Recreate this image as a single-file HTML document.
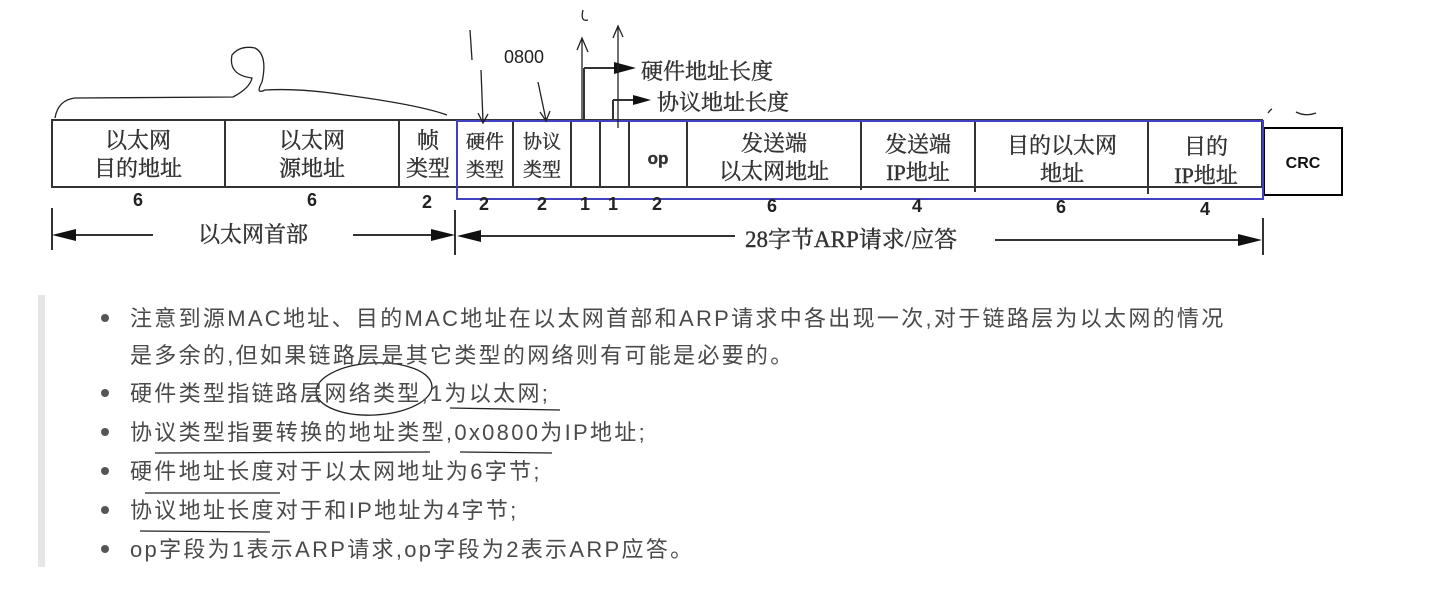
<!DOCTYPE html>
<html><head><meta charset="utf-8"><style>
html,body{margin:0;padding:0;background:#fff;width:1429px;height:595px;overflow:hidden}
svg{display:block}
.cn{font-family:"Liberation Serif","Noto Serif CJK SC",serif;fill:#333;stroke:#333;stroke-width:0.4}
.b{font-family:"Liberation Sans","Noto Sans CJK SC",sans-serif;fill:#4a4a4a;font-size:22px;letter-spacing:2.3px}
</style></head><body>
<svg width="1429" height="595" viewBox="0 0 1429 595" xmlns="http://www.w3.org/2000/svg">
<g stroke="#333" stroke-width="2" fill="none">
<rect x="52" y="120" width="1210" height="67"/>
<line x1="225" y1="120" x2="225" y2="187"/>
<line x1="399" y1="120" x2="399" y2="187"/>
<line x1="457" y1="120" x2="457" y2="187"/>
<line x1="513" y1="120" x2="513" y2="187"/>
<line x1="571" y1="120" x2="571" y2="187"/>
<line x1="600" y1="120" x2="600" y2="187"/>
<line x1="629" y1="120" x2="629" y2="187"/>
<line x1="687" y1="120" x2="687" y2="187"/>
<line x1="861" y1="120" x2="861" y2="190"/>
<line x1="975" y1="120" x2="975" y2="192"/>
<line x1="1148" y1="120" x2="1148" y2="194"/>
<rect x="1264" y="128" width="78" height="67" stroke="#000"/>
<line x1="52" y1="208" x2="52" y2="250"/>
<line x1="455" y1="210" x2="455" y2="255"/>
<line x1="1263" y1="218" x2="1263" y2="255"/>
<line x1="60" y1="235" x2="153" y2="235"/>
<line x1="353" y1="235" x2="445" y2="235"/>
<line x1="465" y1="236" x2="735" y2="236"/>
<line x1="995" y1="240" x2="1255" y2="240"/>
<line x1="584" y1="120" x2="584" y2="68"/>
<line x1="584" y1="68" x2="620" y2="68"/>
<line x1="613" y1="120" x2="613" y2="100"/>
<line x1="613" y1="100" x2="640" y2="100"/>
</g>
<g fill="#111">
<polygon points="52,235 76,229 76,241"/>
<polygon points="455,235 431,229 431,241"/>
<polygon points="457,236 481,230 481,242"/>
<polygon points="1262,240 1238,234 1238,246"/>
<polygon points="636,68 614,62 614,74"/>
<polygon points="651,100 633,95 633,105"/>
</g>
<rect x="457" y="121" width="806" height="78" fill="none" stroke="#4040c0" stroke-width="2"/>
<g stroke="#222" stroke-width="1.3" fill="none">
<path d="M55,118 Q58,100 75,98 L233,97 Q250,88 252,78 Q228,75 232,55 Q240,45 255,48 Q268,55 262,82 Q255,95 265,90 Q300,88 345,95 Q420,105 447,115"/>
<path d="M470,30 L472,60"/><path d="M481,70 L483,122 M478,113 L483,123 L488,114"/>
<path d="M538,82 L546,120 M540,112 L546,121 L550,111"/>
<path d="M583,10 Q580,22 588,20"/>
<path d="M582,120 L582,40 M577,50 L582,38 L588,52"/>
<path d="M618,128 L618,28 M613,38 L618,26 L623,37"/>
<path d="M1268,113 Q1270,110 1272,109 M1296,112 Q1306,117 1316,113"/>
<ellipse cx="374" cy="389" rx="58" ry="26" transform="rotate(-3 374 389)"/>
<path d="M450,408 L560,410"/><path d="M155,453 L430,452 M460,452 L552,453"/>
<path d="M145,493 L280,493"/><path d="M140,531 L270,532"/>
</g>
<text x="504" y="63" font-family="Liberation Sans,sans-serif" font-size="18" fill="#222">0800</text>
<g class="cn" font-size="22">
<text x="641" y="79">硬件地址长度</text>
<text x="657" y="110">协议地址长度</text>
<text x="138" y="148" text-anchor="middle">以太网</text>
<text x="138" y="176" text-anchor="middle">目的地址</text>
<text x="312" y="148" text-anchor="middle">以太网</text>
<text x="312" y="176" text-anchor="middle">源地址</text>
<text x="428" y="148" text-anchor="middle">帧</text>
<text x="428" y="176" text-anchor="middle">类型</text>
<text x="485" y="148" text-anchor="middle" font-size="19">硬件</text>
<text x="485" y="176" text-anchor="middle" font-size="19">类型</text>
<text x="542" y="148" text-anchor="middle" font-size="19">协议</text>
<text x="542" y="176" text-anchor="middle" font-size="19">类型</text>
<text x="658" y="164" text-anchor="middle" font-weight="bold" font-family="Liberation Sans,sans-serif" font-size="17">op</text>
<text x="774" y="151" text-anchor="middle">发送端</text>
<text x="774" y="179" text-anchor="middle">以太网地址</text>
<text x="918" y="152" text-anchor="middle">发送端</text>
<text x="918" y="180" text-anchor="middle">IP地址</text>
<text x="1062" y="153" text-anchor="middle">目的以太网</text>
<text x="1062" y="181" text-anchor="middle">地址</text>
<text x="1206" y="154" text-anchor="middle">目的</text>
<text x="1206" y="183" text-anchor="middle">IP地址</text>
<text x="198" y="242">以太网首部</text>
<text x="745" y="247" font-size="23">28字节ARP请求/应答</text>
</g>
<text x="1303" y="168" text-anchor="middle" font-family="Liberation Sans,sans-serif" font-size="16" font-weight="bold" fill="#111">CRC</text>
<g font-family="Liberation Sans,sans-serif" font-weight="bold" font-size="18" fill="#222" text-anchor="middle">
<text x="138" y="206">6</text><text x="312" y="206">6</text><text x="427" y="208">2</text>
<text x="484" y="210">2</text><text x="542" y="210">2</text><text x="585" y="210">1</text><text x="613" y="210">1</text>
<text x="657" y="210">2</text><text x="772" y="212">6</text><text x="917" y="212">4</text><text x="1061" y="213">6</text><text x="1205" y="215">4</text>
</g>
<rect x="38" y="295" width="7" height="272" fill="#e6e6e6"/>
<g fill="#555">
<circle cx="105" cy="318" r="4"/><circle cx="105" cy="393" r="4"/><circle cx="105" cy="432" r="4"/>
<circle cx="105" cy="471" r="4"/><circle cx="105" cy="510" r="4"/><circle cx="105" cy="549" r="4"/>
</g>
<g class="b">
<text x="130" y="326">注意到源MAC地址、目的MAC地址在以太网首部和ARP请求中各出现一次,对于链路层为以太网的情况</text>
<text x="130" y="363">是多余的,但如果链路层是其它类型的网络则有可能是必要的。</text>
<text x="130" y="401">硬件类型指链路层网络类型,1为以太网;</text>
<text x="130" y="440">协议类型指要转换的地址类型,0x0800为IP地址;</text>
<text x="130" y="479">硬件地址长度对于以太网地址为6字节;</text>
<text x="130" y="518">协议地址长度对于和IP地址为4字节;</text>
<text x="130" y="557">op字段为1表示ARP请求,op字段为2表示ARP应答。</text>
</g>
</svg>
</body></html>
